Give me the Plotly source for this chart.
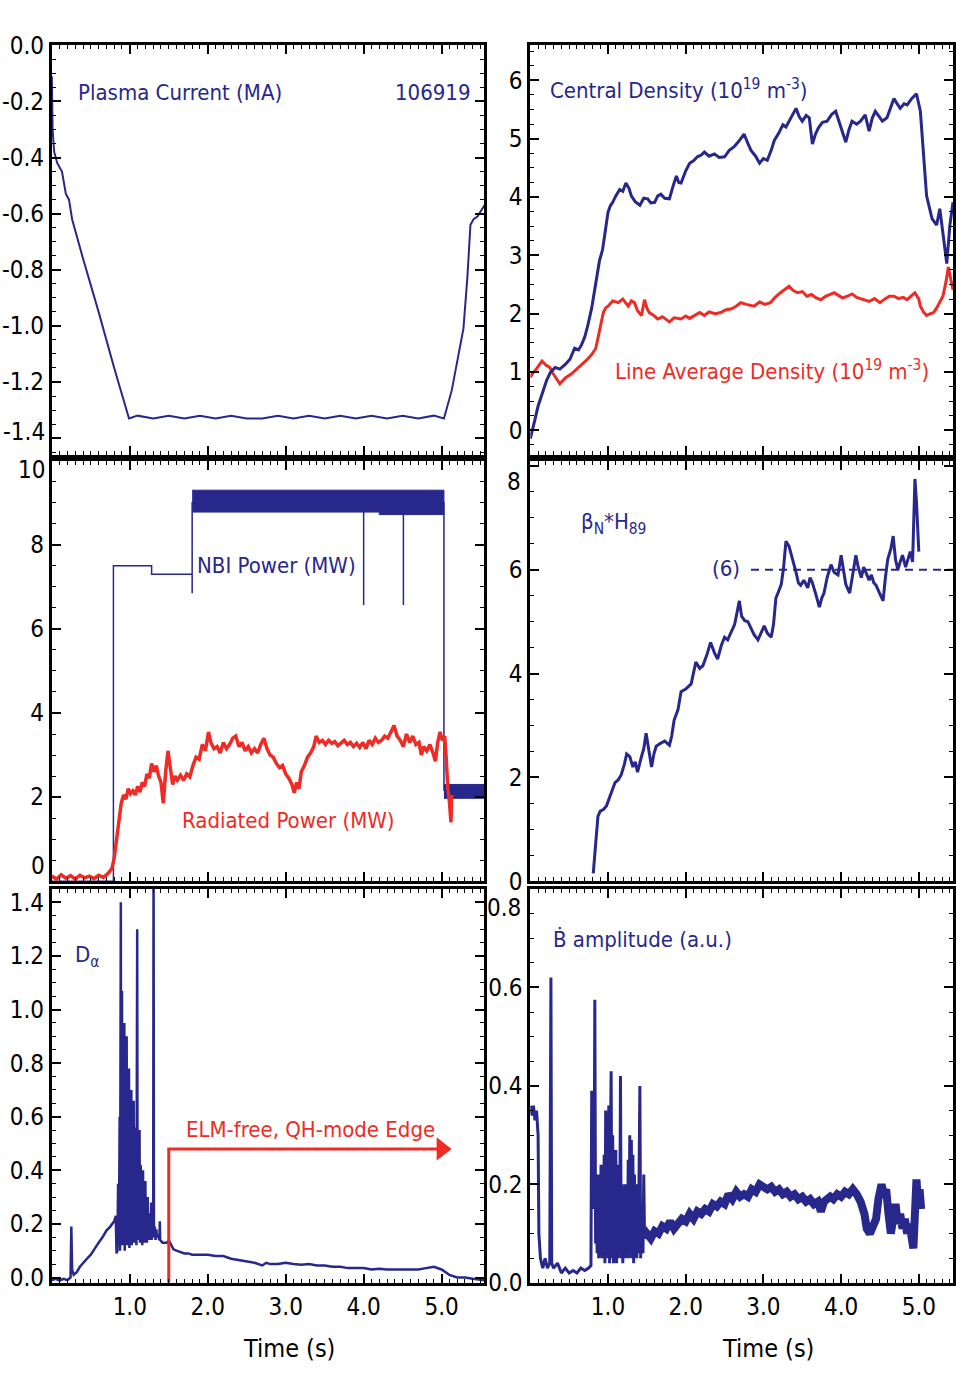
import subprocess
import plotly.graph_objects as go

# ---------------- data ----------------
# Plasma current (MA)
ip_t = [0.00, 0.01, 0.03, 0.07, 0.13, 0.18, 0.22, 0.26, 0.40, 0.60,
        0.80, 0.99, 1.10, 1.30, 1.50, 1.70, 1.90, 2.10, 2.30, 2.50,
        2.70, 2.90, 3.10, 3.30, 3.50, 3.70, 3.90, 4.10, 4.30, 4.50,
        4.70, 4.90, 5.03, 5.13, 5.28, 5.33, 5.37, 5.41, 5.46, 5.51,
        5.55]
ip_ma = [-0.11, -0.30, -0.38, -0.42, -0.45, -0.53, -0.55, -0.62, -0.76, -0.95,
         -1.15, -1.33, -1.32, -1.33, -1.32, -1.33, -1.32, -1.33, -1.32, -1.33,
         -1.33, -1.32, -1.33, -1.32, -1.33, -1.32, -1.33, -1.32, -1.33, -1.32,
         -1.33, -1.32, -1.33, -1.23, -1.01, -0.83, -0.64, -0.62, -0.61, -0.59,
         -0.57]

# Central density (1e19 m^-3)
ne0_t = [0.00, 0.03, 0.06, 0.10, 0.15, 0.21, 0.26, 0.32, 0.38, 0.45,
         0.51, 0.57, 0.62, 0.66, 0.70, 0.74, 0.79, 0.83, 0.86, 0.89,
         0.93, 0.96, 1.00, 1.03, 1.06, 1.10, 1.15, 1.19, 1.23, 1.27,
         1.30, 1.35, 1.41, 1.46, 1.51, 1.55, 1.60, 1.64, 1.68, 1.73,
         1.79, 1.84, 1.88, 1.91, 1.94, 2.00, 2.05, 2.10, 2.15, 2.20,
         2.24, 2.30, 2.37, 2.43, 2.50, 2.56, 2.62, 2.68, 2.75, 2.80,
         2.84, 2.90, 2.95, 3.00, 3.05, 3.10, 3.14, 3.20, 3.25, 3.29,
         3.33, 3.38, 3.42, 3.46, 3.50, 3.55, 3.59, 3.63, 3.67, 3.71,
         3.76, 3.82, 3.88, 3.93, 3.97, 4.01, 4.06, 4.10, 4.14, 4.20,
         4.25, 4.31, 4.36, 4.40, 4.44, 4.49, 4.53, 4.59, 4.63, 4.68,
         4.72, 4.76, 4.81, 4.85, 4.91, 4.97, 5.02, 5.06, 5.10, 5.17,
         5.23, 5.27, 5.32, 5.36, 5.40, 5.44]
ne0 = [-0.14, 0.05, 0.19, 0.42, 0.62, 0.86, 1.00, 1.08, 1.05, 1.13,
       1.22, 1.41, 1.38, 1.47, 1.60, 1.80, 2.10, 2.41, 2.70, 2.91,
       3.10, 3.36, 3.74, 3.85, 3.91, 4.02, 4.13, 4.10, 4.24, 4.15,
       4.02, 3.92, 3.86, 3.98, 3.97, 3.90, 3.91, 4.02, 4.05, 3.98,
       3.97, 4.20, 4.36, 4.25, 4.24, 4.45, 4.58, 4.62, 4.69, 4.72,
       4.77, 4.70, 4.74, 4.68, 4.69, 4.80, 4.86, 4.95, 5.08, 4.92,
       4.80, 4.70, 4.58, 4.66, 4.63, 4.80, 4.97, 5.10, 5.24, 5.20,
       5.30, 5.40, 5.52, 5.38, 5.30, 5.40, 5.36, 4.91, 5.08, 5.19,
       5.28, 5.30, 5.42, 5.47, 5.30, 5.13, 4.94, 5.15, 5.30, 5.25,
       5.30, 5.41, 5.13, 5.35, 5.47, 5.38, 5.30, 5.36, 5.50, 5.69,
       5.60, 5.52, 5.60, 5.58, 5.69, 5.77, 5.47, 4.80, 4.02, 3.63,
       3.52, 3.80, 3.24, 2.86, 3.52, 3.91]

# Line average density (1e19 m^-3)
nel_t = [0.00, 0.03, 0.06, 0.10, 0.15, 0.20, 0.25, 0.29, 0.32, 0.35,
         0.38, 0.45, 0.53, 0.60, 0.66, 0.72, 0.79, 0.84, 0.87, 0.91,
         0.94, 0.97, 1.00, 1.06, 1.13, 1.19, 1.26, 1.30, 1.34, 1.38,
         1.43, 1.47, 1.50, 1.53, 1.58, 1.64, 1.70, 1.79, 1.85, 1.94,
         2.00, 2.05, 2.11, 2.18, 2.24, 2.30, 2.38, 2.45, 2.52, 2.58,
         2.64, 2.71, 2.78, 2.88, 2.95, 3.02, 3.09, 3.15, 3.22, 3.28,
         3.33, 3.38, 3.44, 3.50, 3.56, 3.62, 3.68, 3.74, 3.80, 3.86,
         3.91, 3.97, 4.02, 4.08, 4.14, 4.20, 4.29, 4.36, 4.43, 4.50,
         4.56, 4.62, 4.68, 4.74, 4.80, 4.85, 4.90, 4.95, 5.00, 5.02,
         5.06, 5.10, 5.15, 5.19, 5.23, 5.27, 5.31, 5.35, 5.38, 5.41,
         5.44]
nel = [0.91, 0.98, 1.02, 1.10, 1.19, 1.12, 1.08, 0.98, 0.91, 0.86,
       0.80, 0.90, 0.97, 1.05, 1.13, 1.20, 1.30, 1.40, 1.58, 1.85,
       2.02, 2.10, 2.13, 2.22, 2.19, 2.25, 2.13, 2.22, 2.19, 2.05,
       1.97, 2.24, 2.10, 2.02, 1.98, 1.91, 1.95, 1.86, 1.93, 1.91,
       1.96, 1.92, 1.97, 2.02, 1.97, 2.03, 2.00, 2.02, 2.07, 2.08,
       2.12, 2.19, 2.16, 2.13, 2.20, 2.16, 2.19, 2.28, 2.36, 2.42,
       2.47, 2.40, 2.36, 2.38, 2.30, 2.33, 2.27, 2.24, 2.30, 2.33,
       2.36, 2.31, 2.27, 2.30, 2.34, 2.28, 2.24, 2.21, 2.26, 2.19,
       2.25, 2.30, 2.30, 2.26, 2.28, 2.24, 2.30, 2.36, 2.25, 2.13,
       2.03, 1.97, 2.00, 2.02, 2.10, 2.19, 2.30, 2.55, 2.80, 2.60,
       2.41]

# NBI power (MW) - thin trace and modulated bands
nbi_t = [0.00, 0.79, 0.79, 1.28, 1.28, 1.80, 1.80, 1.80, 4.00, 4.00, 4.00,
         4.51, 4.51, 4.51, 5.03, 5.03]
nbi_mw = [0.00, 0.00, 7.50, 7.50, 7.30, 7.30, 6.85, 9.00, 9.00, 6.57, 9.00,
          9.00, 6.57, 9.00, 9.00, 2.15]
nbi_band_t = [1.80, 5.03, 5.03, 4.20, 4.20, 1.80]
nbi_band_mw = [9.30, 9.30, 8.72, 8.72, 8.78, 8.78]
nbi_low_t = [5.03, 5.55, 5.55, 5.03]
nbi_low_mw = [2.30, 2.30, 1.97, 1.97]

# Radiated power (MW)
prad_t = [0.00, 0.06, 0.12, 0.18, 0.24, 0.30, 0.36, 0.42, 0.48, 0.54,
          0.60, 0.66, 0.72, 0.77, 0.80, 0.83, 0.86, 0.89, 0.92, 0.95,
          0.98, 1.01, 1.04, 1.07, 1.10, 1.13, 1.16, 1.19, 1.22, 1.25,
          1.28, 1.31, 1.34, 1.37, 1.40, 1.43, 1.46, 1.49, 1.52, 1.55,
          1.58, 1.61, 1.65, 1.69, 1.73, 1.77, 1.81, 1.85, 1.89, 1.93,
          1.97, 2.01, 2.04, 2.08, 2.12, 2.16, 2.20, 2.24, 2.28, 2.32,
          2.36, 2.40, 2.44, 2.48, 2.52, 2.56, 2.60, 2.64, 2.68, 2.72,
          2.76, 2.80, 2.84, 2.88, 2.92, 2.96, 3.00, 3.04, 3.08, 3.11,
          3.14, 3.17, 3.20, 3.24, 3.28, 3.32, 3.36, 3.39, 3.43, 3.47,
          3.51, 3.55, 3.59, 3.63, 3.67, 3.71, 3.75, 3.79, 3.83, 3.87,
          3.91, 3.95, 3.99, 4.03, 4.07, 4.11, 4.15, 4.19, 4.23, 4.27,
          4.31, 4.35, 4.39, 4.43, 4.47, 4.51, 4.55, 4.59, 4.63, 4.67,
          4.71, 4.74, 4.77, 4.81, 4.85, 4.89, 4.92, 4.95, 4.98, 5.01,
          5.04, 5.06, 5.08, 5.10, 5.12, 5.13]
prad_mw = [0.12, 0.05, 0.15, 0.07, 0.13, 0.05, 0.14, 0.08, 0.12, 0.06,
           0.14, 0.09, 0.18, 0.30, 0.55, 0.95, 1.40, 1.85, 2.05, 1.95,
           2.20, 2.08, 2.15, 2.05, 2.25, 2.12, 2.35, 2.25, 2.55, 2.45,
           2.80, 2.60, 2.75, 2.50, 2.35, 1.85, 2.60, 3.10, 2.70, 2.30,
           2.50, 2.40, 2.52, 2.40, 2.55, 2.48, 2.75, 2.95, 2.90, 3.25,
           3.10, 3.55, 3.30, 3.15, 3.20, 3.05, 3.30, 3.15, 3.25, 3.40,
           3.45, 3.20, 3.30, 3.10, 3.20, 3.05, 3.15, 3.05, 3.25, 3.40,
           3.15, 3.00, 2.95, 2.80, 2.70, 2.75, 2.55, 2.45, 2.30, 2.10,
           2.35, 2.20, 2.60, 2.75, 2.95, 3.05, 3.20, 3.45, 3.30, 3.35,
           3.25, 3.35, 3.28, 3.32, 3.22, 3.30, 3.35, 3.25, 3.30, 3.20,
           3.28, 3.18, 3.30, 3.15, 3.35, 3.25, 3.40, 3.30, 3.35, 3.45,
           3.40, 3.55, 3.70, 3.45, 3.35, 3.20, 3.50, 3.30, 3.45, 3.25,
           3.30, 3.00, 3.20, 3.10, 3.25, 3.05, 2.85, 3.30, 3.55, 3.35,
           3.45, 2.90, 2.20, 1.90, 1.40, 2.05]

# beta_N * H89
bnh_t = [0.81, 0.84, 0.87, 0.90, 0.94, 0.98, 1.02, 1.06, 1.09, 1.13,
         1.17, 1.21, 1.24, 1.28, 1.32, 1.35, 1.38, 1.43, 1.46, 1.49,
         1.53, 1.56, 1.59, 1.62, 1.67, 1.73, 1.79, 1.82, 1.85, 1.90,
         1.94, 2.00, 2.07, 2.10, 2.13, 2.18, 2.22, 2.27, 2.32, 2.37,
         2.41, 2.46, 2.50, 2.54, 2.58, 2.63, 2.67, 2.69, 2.72, 2.76,
         2.80, 2.84, 2.88, 2.93, 2.97, 3.01, 3.05, 3.10, 3.13, 3.16,
         3.20, 3.23, 3.26, 3.29, 3.33, 3.36, 3.39, 3.42, 3.45, 3.48,
         3.52, 3.57, 3.60, 3.63, 3.67, 3.72, 3.75, 3.78, 3.82, 3.87,
         3.91, 3.96, 4.00, 4.03, 4.06, 4.11, 4.15, 4.19, 4.22, 4.26,
         4.29, 4.32, 4.36, 4.39, 4.42, 4.45, 4.50, 4.54, 4.57, 4.60,
         4.64, 4.67, 4.70, 4.73, 4.76, 4.79, 4.83, 4.86, 4.89, 4.92,
         4.94, 4.95, 4.97, 4.99, 5.00]
bnh = [0.15, 0.75, 1.25, 1.35, 1.38, 1.45, 1.60, 1.75, 1.90, 1.95,
       2.05, 2.25, 2.45, 2.40, 2.20, 2.30, 2.10, 2.40, 2.55, 2.85,
       2.45, 2.20, 2.45, 2.60, 2.65, 2.70, 2.62, 2.80, 3.10, 3.30,
       3.65, 3.70, 3.80, 4.00, 4.22, 4.10, 4.15, 4.35, 4.60, 4.40,
       4.28, 4.55, 4.70, 4.65, 4.80, 4.95, 5.25, 5.40, 5.10, 5.02,
       5.00, 4.88, 4.75, 4.65, 4.80, 4.92, 4.78, 4.70, 4.95, 5.45,
       5.60, 5.72, 6.05, 6.55, 6.45, 6.30, 6.10, 5.95, 5.75, 5.70,
       5.80, 5.65, 5.85, 5.75, 5.55, 5.28, 5.45, 5.55, 5.85, 6.10,
       5.95, 5.90, 6.28, 6.00, 5.72, 5.55, 5.90, 6.28, 6.05, 5.85,
       6.05, 5.95, 5.80, 5.90, 5.75, 5.70, 5.55, 5.40, 5.85, 6.20,
       6.40, 6.65, 6.20, 6.00, 6.15, 6.28, 6.05, 6.20, 6.35, 6.15,
       7.20, 7.75, 7.30, 6.70, 6.35]
bnh_ref_t = [2.84, 5.44]
bnh_ref = [6.0, 6.0]

# D-alpha (a.u.)
da_t = [0.00, 0.05, 0.10, 0.15, 0.20, 0.24, 0.25, 0.26, 0.28, 0.32,
        0.36, 0.40, 0.45, 0.50, 0.55, 0.60, 0.65, 0.70, 0.75, 0.80,
        0.82, 0.83, 0.84, 0.85, 0.86, 0.87, 0.875, 0.885, 0.89, 0.90,
        0.905, 0.915, 0.92, 0.93, 0.935, 0.945, 0.95, 0.96, 0.965, 0.975,
        0.98, 0.99, 0.995, 1.005, 1.01, 1.02, 1.025, 1.035, 1.04, 1.05,
        1.055, 1.065, 1.07, 1.08, 1.085, 1.095, 1.10, 1.11, 1.115, 1.125,
        1.13, 1.14, 1.145, 1.155, 1.16, 1.17, 1.175, 1.185, 1.19, 1.20,
        1.205, 1.215, 1.22, 1.23, 1.235, 1.245, 1.25, 1.26, 1.265, 1.275,
        1.28, 1.29, 1.30, 1.305, 1.31, 1.32, 1.33, 1.34, 1.35, 1.36,
        1.38, 1.385, 1.39, 1.42, 1.45, 1.48, 1.50, 1.53, 1.56, 1.60,
        1.65, 1.70, 1.75, 1.80, 1.90, 2.00, 2.10, 2.20, 2.30, 2.40,
        2.50, 2.60, 2.70, 2.75, 2.80, 2.90, 3.00, 3.10, 3.20, 3.30,
        3.40, 3.50, 3.60, 3.70, 3.80, 3.90, 4.00, 4.10, 4.20, 4.30,
        4.40, 4.50, 4.60, 4.70, 4.80, 4.90, 5.00, 5.05, 5.10, 5.20,
        5.30, 5.40, 5.50, 5.55]
da = [-0.010, -0.005, -0.012, -0.005, -0.010, 0.000, 0.190, 0.030, 0.010, 0.020,
      0.040, 0.055, 0.070, 0.085, 0.110, 0.130, 0.150, 0.175, 0.190, 0.210,
      0.230, 0.090, 0.100, 0.350, 0.120, 0.600, 0.100, 1.400, 0.140, 1.070,
      0.120, 0.800, 0.130, 0.950, 0.100, 0.720, 0.150, 0.900, 0.120, 0.550,
      0.160, 0.780, 0.110, 0.580, 0.160, 0.700, 0.120, 0.500, 0.170, 0.660,
      0.130, 0.480, 0.150, 0.560, 0.120, 1.300, 0.140, 0.450, 0.150, 0.550,
      0.130, 0.420, 0.160, 0.380, 0.120, 0.400, 0.150, 0.300, 0.130, 0.360,
      0.150, 0.260, 0.130, 0.300, 0.150, 0.240, 0.140, 0.220, 0.150, 0.280,
      0.140, 0.200, 0.150, 1.600, 0.150, 0.190, 0.140, 0.180, 0.150, 0.160,
      0.140, 0.210, 0.140, 0.130, 0.130, 0.130, 0.140, 0.120, 0.105, 0.100,
      0.095, 0.090, 0.090, 0.085, 0.085, 0.085, 0.080, 0.080, 0.070, 0.065,
      0.060, 0.055, 0.045, 0.055, 0.050, 0.050, 0.055, 0.050, 0.048, 0.050,
      0.045, 0.045, 0.040, 0.040, 0.035, 0.035, 0.035, 0.030, 0.033, 0.030,
      0.030, 0.032, 0.030, 0.030, 0.035, 0.040, 0.030, 0.020, 0.010, 0.000,
      0.000, -0.005, -0.010, -0.010]
elm_free_t = [1.50, 1.50, 5.00]
elm_free_y = [-0.02, 0.48, 0.48]

# B-dot amplitude (a.u.)
bamp_t = [0.00, 0.02, 0.04, 0.06, 0.08, 0.10, 0.11, 0.13, 0.16, 0.19,
          0.22, 0.25, 0.265, 0.275, 0.30, 0.35, 0.40, 0.45, 0.50, 0.55,
          0.60, 0.65, 0.70, 0.75, 0.78, 0.79, 0.81, 0.82, 0.83, 0.84,
          0.85, 0.86, 0.87, 0.88, 0.89, 0.90, 0.91, 0.92, 0.93, 0.94,
          0.95, 0.96, 0.97, 0.98, 0.99, 1.00, 1.01, 1.02, 1.03, 1.04,
          1.05, 1.06, 1.07, 1.08, 1.09, 1.10, 1.11, 1.12, 1.13, 1.14,
          1.15, 1.16, 1.17, 1.18, 1.19, 1.20, 1.21, 1.22, 1.23, 1.24,
          1.25, 1.26, 1.27, 1.28, 1.29, 1.30, 1.31, 1.32, 1.33, 1.34,
          1.35, 1.36, 1.37, 1.38, 1.39, 1.41, 1.42, 1.44, 1.45, 1.46,
          1.47]
bamp = [0.36, 0.34, 0.36, 0.33, 0.35, 0.30, 0.10, 0.05, 0.03, 0.05,
        0.03, 0.04, 0.62, 0.04, 0.03, 0.04, 0.02, 0.03, 0.02, 0.025,
        0.02, 0.03, 0.025, 0.03, 0.035, 0.39, 0.38, 0.15, 0.575, 0.08,
        0.15, 0.06, 0.22, 0.05, 0.20, 0.06, 0.24, 0.05, 0.18, 0.06,
        0.26, 0.04, 0.35, 0.06, 0.30, 0.05, 0.36, 0.04, 0.27, 0.43,
        0.05, 0.30, 0.04, 0.25, 0.06, 0.27, 0.04, 0.24, 0.05, 0.22,
        0.06, 0.42, 0.05, 0.20, 0.04, 0.18, 0.06, 0.20, 0.05, 0.16,
        0.06, 0.25, 0.05, 0.30, 0.06, 0.29, 0.05, 0.26, 0.04, 0.22,
        0.06, 0.20, 0.05, 0.15, 0.06, 0.40, 0.05, 0.16, 0.06, 0.22,
        0.09]
bamp_post_t = [1.47, 1.50, 1.55, 1.60, 1.65, 1.70, 1.75, 1.80, 1.85, 1.90,
               1.95, 2.00, 2.05, 2.10, 2.15, 2.20, 2.25, 2.30, 2.35, 2.40,
               2.45, 2.50, 2.55, 2.60, 2.65, 2.70, 2.75, 2.80, 2.85, 2.90,
               2.95, 3.00, 3.05, 3.10, 3.15, 3.20, 3.25, 3.30, 3.35, 3.40,
               3.45, 3.50, 3.55, 3.60, 3.65, 3.70, 3.74, 3.78, 3.82, 3.86,
               3.90, 3.95, 4.00, 4.05, 4.10, 4.15, 4.20, 4.25, 4.30, 4.33,
               4.37, 4.41, 4.45, 4.48, 4.52, 4.55, 4.58, 4.61, 4.64, 4.67,
               4.70, 4.73, 4.76, 4.79, 4.82, 4.85, 4.88, 4.91, 4.93, 4.95,
               4.97, 4.99, 5.01, 5.03]
bamp_post = [0.09, 0.10, 0.09, 0.105, 0.10, 0.115, 0.11, 0.125, 0.11, 0.12,
             0.13, 0.125, 0.14, 0.13, 0.145, 0.14, 0.15, 0.145, 0.16, 0.155,
             0.165, 0.16, 0.18, 0.17, 0.185, 0.175, 0.18, 0.175, 0.19, 0.185,
             0.20, 0.195, 0.19, 0.195, 0.185, 0.19, 0.18, 0.185, 0.175, 0.18,
             0.17, 0.175, 0.165, 0.17, 0.16, 0.165, 0.145, 0.165, 0.17, 0.175,
             0.17, 0.18, 0.175, 0.185, 0.18, 0.19, 0.18, 0.165, 0.14, 0.11,
             0.10, 0.115, 0.13, 0.17, 0.20, 0.18, 0.19, 0.14, 0.10, 0.13,
             0.16, 0.12, 0.14, 0.11, 0.13, 0.10, 0.12, 0.09, 0.07, 0.14,
             0.21, 0.16, 0.19, 0.15]

# tick labels ("" = label drawn separately, nudged inward as in the reference)
x_tickvals = [1, 2, 3, 4, 5]
x_ticktext = ["1.0", "2.0", "3.0", "4.0", "5.0"]
ip_tickvals = [0, -0.2, -0.4, -0.6, -0.8, -1.0, -1.2, -1.4]
ip_ticktext = ["0.0", "-0.2", "-0.4", "-0.6", "-0.8", "-1.0", "-1.2", ""]
ne_tickvals = [0, 1, 2, 3, 4, 5, 6]
ne_ticktext = ["0", "1", "2", "3", "4", "5", "6"]
pw_tickvals = [0, 2, 4, 6, 8, 10]
pw_ticktext = ["", "2", "4", "6", "8", ""]
bn_tickvals = [0, 2, 4, 6, 8]
bn_ticktext = ["0", "2", "4", "6", ""]
da_tickvals = [0, 0.2, 0.4, 0.6, 0.8, 1.0, 1.2, 1.4]
da_ticktext = ["0.0", "0.2", "0.4", "0.6", "0.8", "1.0", "1.2", "1.4"]
bd_tickvals = [0, 0.2, 0.4, 0.6, 0.8]
bd_ticktext = ["0.0", "0.2", "0.4", "0.6", ""]

# ---------------- style ----------------
def _has_font(name):
    try:
        out = subprocess.run(["fc-list", ":", "family"], capture_output=True,
                             text=True, timeout=10).stdout
        return name.lower() in out.lower()
    except Exception:
        return False

if _has_font("Liberation Sans Narrow"):
    FONT = "Liberation Sans Narrow"
    S = 1.0
elif _has_font("DejaVu Sans Condensed"):
    FONT = "DejaVu Sans Condensed"
    S = 0.82
else:
    FONT = "Liberation Sans"
    S = 0.84

NAVY = "#27278c"
RED = "#ee2b24"
W, H = 956, 1387

XL = [52 / W, 486 / W]
XR = [532 / W, 1.0]
YT = [1 - 450 / H, 1 - 32 / H]
YM = [1 - 885 / H, 1 - 456 / H]
YB = [1 - 1295 / H, 1 - 893 / H]

fig = go.Figure()

def add(x, y, ax, color, width, dash=None, **kw):
    xa = "x" if ax == 1 else f"x{ax}"
    ya = "y" if ax == 1 else f"y{ax}"
    line = dict(color=color, width=width)
    if dash:
        line["dash"] = dash
    fig.add_trace(go.Scatter(x=x, y=y, xaxis=xa, yaxis=ya, mode="lines", line=line,
                             showlegend=False, hoverinfo="skip", **kw))

# panel 1: plasma current
add(ip_t, ip_ma, 1, NAVY, 2)
# panel 2: densities
add(nel_t, nel, 2, RED, 3)
add(ne0_t, ne0, 2, NAVY, 3)
# panel 3: powers
add(nbi_t, nbi_mw, 3, NAVY, 1.5)
add(nbi_band_t, nbi_band_mw, 3, NAVY, 1, fill="toself", fillcolor=NAVY)
add(nbi_low_t, nbi_low_mw, 3, NAVY, 1, fill="toself", fillcolor=NAVY)
add(prad_t, prad_mw, 3, RED, 3.5)
# panel 4: beta_N*H89
add(bnh_ref_t, bnh_ref, 4, NAVY, 2, dash="8px,6px")
add(bnh_t, bnh, 4, NAVY, 3)
# panel 5: D-alpha
add(da_t, da, 5, NAVY, 2.5)
add(elm_free_t, elm_free_y, 5, RED, 3)
fig.add_trace(go.Scatter(x=[elm_free_t[-1]], y=[elm_free_y[-1]], xaxis="x5", yaxis="y5",
                         mode="markers", marker=dict(symbol="triangle-right", size=20, color=RED),
                         showlegend=False, hoverinfo="skip"))
# panel 6: B-dot amplitude
add(bamp_t, bamp, 6, NAVY, 3)
add(bamp_post_t, bamp_post, 6, NAVY, 8)

TICK_SIZE = round(29 * S)
tickfont = dict(family=FONT, size=TICK_SIZE, color="black")

def xaxis(dom, rng, anchor, labels):
    return dict(domain=dom, range=rng, anchor=anchor, showline=True, linewidth=3,
                linecolor="black", mirror="allticks", ticks="inside", ticklen=9,
                tickwidth=2, tickcolor="black", showgrid=False, zeroline=False,
                tickvals=x_tickvals, ticktext=x_ticktext, showticklabels=labels,
                tickfont=tickfont,
                minor=dict(ticks="inside", ticklen=4, tickwidth=1, tickcolor="black",
                           dtick=0.1, tick0=0, showgrid=False))

def yaxis(dom, rng, anchor, vals, text, mdt):
    return dict(domain=dom, range=rng, anchor=anchor, showline=True, linewidth=3,
                linecolor="black", mirror="allticks", ticks="inside", ticklen=9,
                tickwidth=2, tickcolor="black", showgrid=False, zeroline=False,
                tickvals=vals, ticktext=text, tickfont=tickfont,
                minor=dict(ticks="inside", ticklen=4, tickwidth=1, tickcolor="black",
                           dtick=mdt, tick0=0, showgrid=False))

fig.update_layout(
    width=W, height=H, margin=dict(l=0, r=0, t=0, b=0),
    paper_bgcolor="white", plot_bgcolor="white", showlegend=False,
    xaxis=xaxis(XL, [0, 5.55], "y", False),
    yaxis=yaxis(YT, [-1.46, 0.0], "x", ip_tickvals, ip_ticktext, 0.05),
    xaxis2=xaxis(XR, [0, 5.44], "y2", False),
    yaxis2=yaxis(YT, [-0.42, 6.6], "x2", ne_tickvals, ne_ticktext, 0.25),
    xaxis3=xaxis(XL, [0, 5.55], "y3", False),
    yaxis3=yaxis(YM, [0, 10], "x3", pw_tickvals, pw_ticktext, 0.5),
    xaxis4=xaxis(XR, [0, 5.44], "y4", False),
    yaxis4=yaxis(YM, [0, 8.1], "x4", bn_tickvals, bn_ticktext, 0.5),
    xaxis5=xaxis(XL, [0, 5.55], "y5", True),
    yaxis5=yaxis(YB, [-0.02, 1.45], "x5", da_tickvals, da_ticktext, 0.05),
    xaxis6=xaxis(XR, [0, 5.44], "y6", True),
    yaxis6=yaxis(YB, [0, 0.8], "x6", bd_tickvals, bd_ticktext, 0.05),
)

def P(px, py):
    return px / W, 1 - py / H

def label(text, px, py, color, size=27, anchor="left"):
    x, y = P(px, py)
    fig.add_annotation(x=x, y=y, xref="paper", yref="paper", text=text, showarrow=False,
                       xanchor=anchor, yanchor="middle",
                       font=dict(family=FONT, size=round(size * S), color=color))

# edge tick labels, nudged inward as in the reference
label("-1.4", 47, 427, "black", size=29, anchor="right")
label("10", 47, 465, "black", size=29, anchor="right")
label("0", 47, 870, "black", size=29, anchor="right")
label("8", 525, 478, "black", size=29, anchor="right")
label("0.8", 525, 912, "black", size=29, anchor="right")

label("Plasma Current (MA)", 76, 80, NAVY)
label("106919", 474, 80, NAVY, anchor="right")
label("Central Density (10<sup>19</sup> m<sup>-3</sup>)", 550, 77, NAVY)
label("Line Average Density (10<sup>19</sup> m<sup>-3</sup>)", 615, 363, RED)
label("NBI Power (MW)", 196, 563, NAVY)
label("Radiated Power (MW)", 181, 823, RED)
label("β<sub>N</sub>*H<sub>89</sub>", 581, 520, NAVY)
label("(6)", 712, 566, NAVY)
label("D<sub>α</sub>", 73, 962, NAVY)
label("ELM-free, QH-mode Edge", 185, 1138, RED)
label("Ḃ amplitude (a.u.)", 553, 945, NAVY)
label("Time (s)", 290, 1362, "black", size=31, anchor="center")
label("Time (s)", 770, 1362, "black", size=31, anchor="center")

fig.write_html("out.html")
